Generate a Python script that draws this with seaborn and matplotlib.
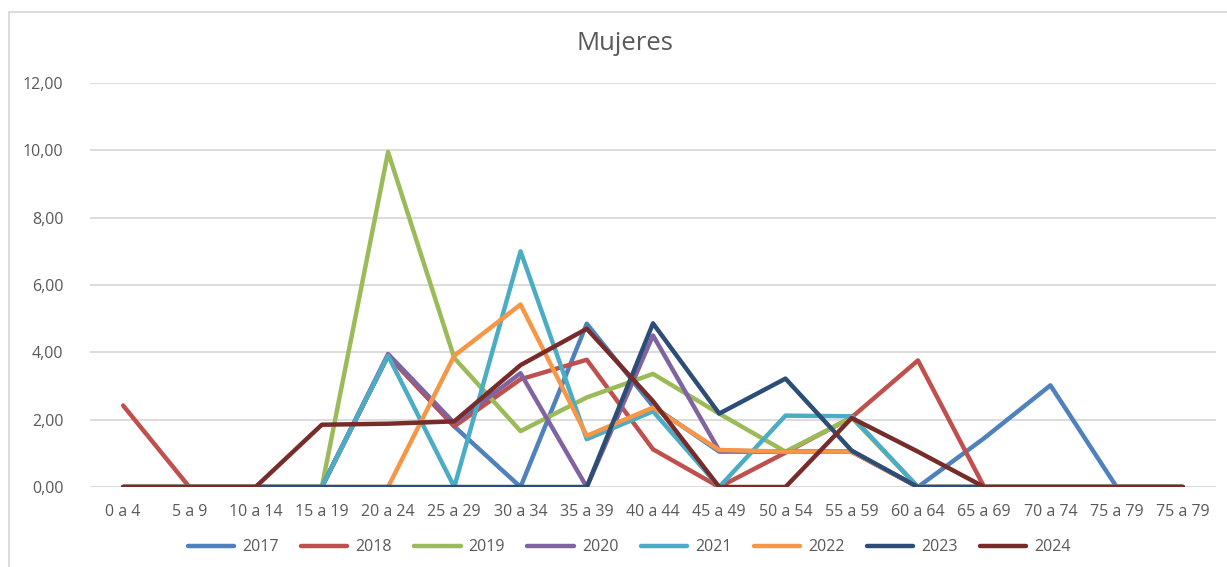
import numpy as np
import pandas as pd
import matplotlib
matplotlib.use("Agg")
import matplotlib.pyplot as plt
from matplotlib.patches import Rectangle
import seaborn as sns

age_groups = ["0 a 4", "5 a 9", "10 a 14", "15 a 19", "20 a 24", "25 a 29",
              "30 a 34", "35 a 39", "40 a 44", "45 a 49", "50 a 54", "55 a 59",
              "60 a 64", "65 a 69", "70 a 74", "75 a 79", "75 a 79"]

y2017 = [0, 0, 0, 0, 3.90, 1.80, 0, 4.85, 2.40, 1.05, 1.05, 1.05, 0, 1.45, 3.02, 0, 0]
y2018 = [2.42, 0, 0, 0, 3.90, 1.80, 3.20, 3.78, 1.12, 0, 1.02, 2.07, 3.76, 0, 0, 0, 0]
y2019 = [0, 0, 0, 0, 9.95, 3.83, 1.66, 2.66, 3.36, 2.18, 1.05, 2.06, 0, 0, 0, 0, 0]
y2020 = [0, 0, 0, 0, 3.95, 1.90, 3.38, 0, 4.50, 1.08, 1.05, 1.05, 0, 0, 0, 0, 0]
y2021 = [0, 0, 0, 0, 3.90, 0, 7.00, 1.42, 2.25, 0, 2.12, 2.10, 0, 0, 0, 0, 0]
y2022 = [0, 0, 0, 0, 0, 3.90, 5.42, 1.52, 2.36, 1.10, 1.05, 1.05, 0, 0, 0, 0, 0]
y2023 = [0, 0, 0, 0, 0, 0, 0, 0, 4.86, 2.18, 3.22, 1.08, 0, 0, 0, 0, 0]
y2024 = [0, 0, 0, 1.85, 1.88, 1.95, 3.62, 4.70, 2.55, 0, 0, 2.05, 1.05, 0, 0, 0, 0]

years = ["2017", "2018", "2019", "2020", "2021", "2022", "2023", "2024"]
colors = ["#4F81BD", "#C0504D", "#9BBB59", "#8064A2",
          "#4BACC6", "#F79646", "#2C4D75", "#772C2A"]

series = [y2017, y2018, y2019, y2020, y2021, y2022, y2023, y2024]
rows = []
for year, vals in zip(years, series):
    for i, v in enumerate(vals):
        rows.append({"pos": i, "valor": v, "year": year})
df = pd.DataFrame(rows)

sns.set_style("white")
plt.rcParams["font.family"] = ["Open Sans", "DejaVu Sans"]

fig = plt.figure(figsize=(12.27, 5.67), dpi=100)
ax = fig.add_axes([90 / 1227, 1 - 487 / 567, (1216 - 90) / 1227, (487 - 83) / 567])

sns.lineplot(data=df, x="pos", y="valor", hue="year", hue_order=years,
             palette=dict(zip(years, colors)), linewidth=3.2, sort=False,
             estimator=None, ax=ax)

ax.set_xlim(-0.5, len(age_groups) - 0.5)
ax.set_ylim(0, 12)
ax.set_yticks(np.arange(0, 13, 2))
ax.set_yticklabels([f"{v:.2f}".replace(".", ",") for v in np.arange(0, 13, 2)])
ax.set_xticks(range(len(age_groups)))
ax.set_xticklabels(age_groups)
ax.tick_params(axis="both", length=0, labelsize=11.5, labelcolor="#595959")
ax.tick_params(axis="y", pad=19)
ax.tick_params(axis="x", pad=12)
ax.set_xlabel("")
ax.set_ylabel("")
ax.yaxis.grid(True, color="#D9D9D9", linewidth=1.3)
ax.set_axisbelow(True)
for s in ax.spines.values():
    s.set_visible(False)

handles, labels = ax.get_legend_handles_labels()
ax.get_legend().remove()
fig.legend(handles, labels, loc="center", bbox_to_anchor=(0.513, 0.035),
           ncol=8, frameon=False, fontsize=11.5, handlelength=2.9,
           handletextpad=0.5, columnspacing=1.4, labelcolor="#595959")

fig.text(0.509, 1 - 43 / 567, "Mujeres", ha="center", va="center",
         fontsize=18.5, color="#595959")

fig.patches.append(Rectangle((9 / 1227, -0.1), 1.2, (567 - 12) / 567 + 0.1,
                             transform=fig.transFigure, fill=False,
                             edgecolor="#D9D9D9", linewidth=1.3))

fig.savefig("out.png", dpi=100)
